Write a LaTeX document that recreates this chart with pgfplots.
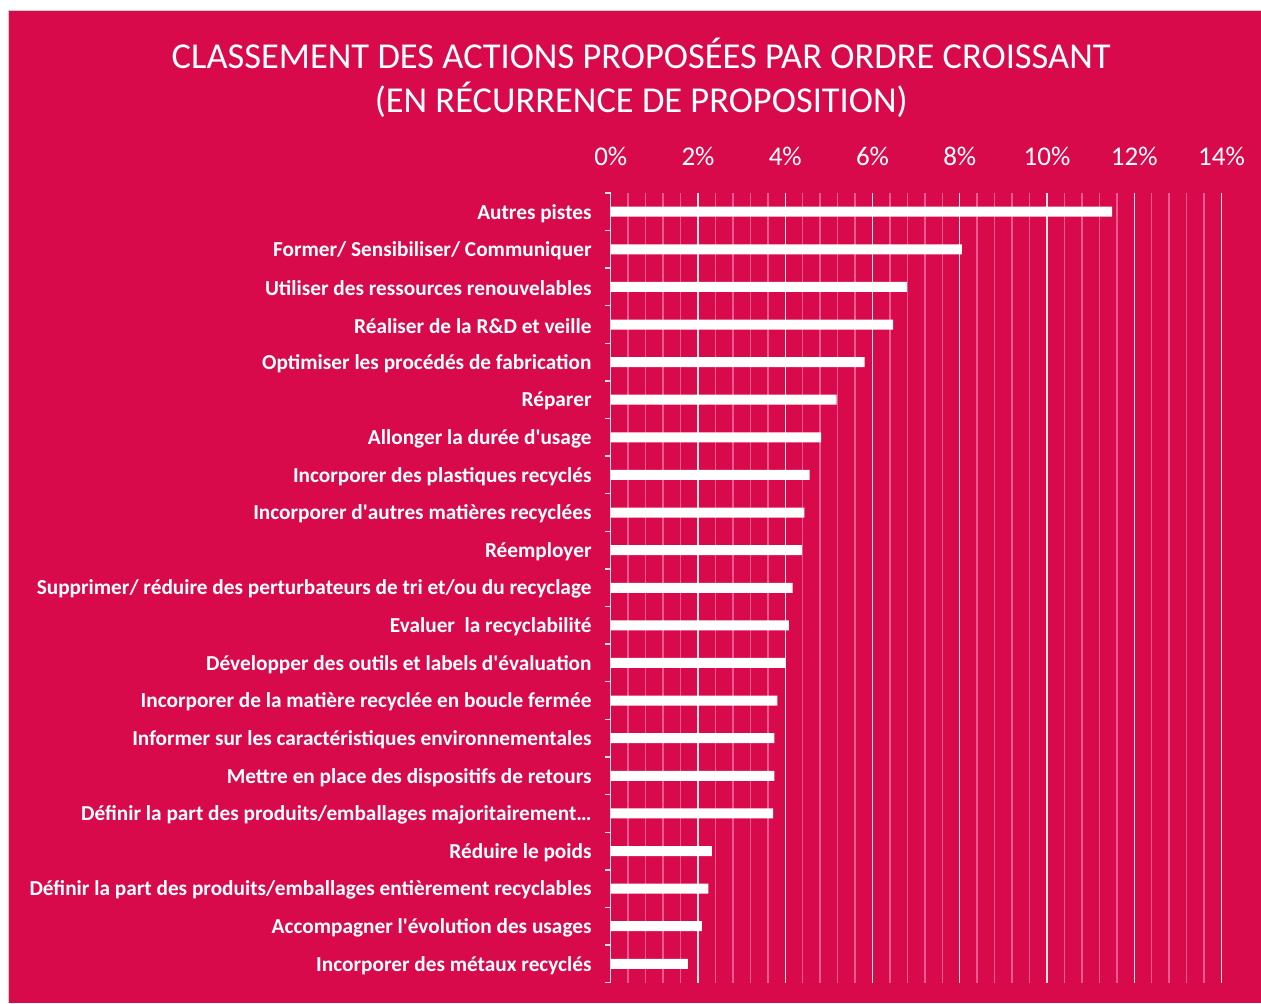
\documentclass[border=0pt]{standalone}
\usepackage{pgfplots}
\pgfplotsset{compat=1.18}
\usepackage{fontspec}
\setmainfont{Carlito}
\definecolor{bg}{HTML}{D80A4C}
\definecolor{minorg}{HTML}{F25B92}
\definecolor{majorg}{HTML}{E4E4E4}
\begin{document}
\begin{tikzpicture}[x=1bp,y=1bp]
\fill[white] (0,0) rectangle (1261,1003);
\fill[bg] (9,0) rectangle (1261,992);
\draw[black!20, line width=1bp] (8.5,0) -- (8.5,992.5) -- (1261,992.5);
\node[anchor=base, text=white, inner sep=0pt, font=\fontsize{36.5bp}{40bp}\selectfont] at (641.5,934) {CLASSEMENT DES ACTIONS PROPOSÉES PAR ORDRE CROISSANT};
\node[anchor=base, text=white, inner sep=0pt, font=\fontsize{36.5bp}{40bp}\selectfont] at (641.5,890) {(EN RÉCURRENCE DE PROPOSITION)};
\begin{axis}[
 at={(611bp,20bp)}, anchor=south west,
 width=611bp, height=790bp, scale only axis,
 xmin=0, xmax=14, ymin=-0.5, ymax=20.5, y dir=reverse,
 xbar, bar width=10bp,
 xtick={0,2,...,14}, xticklabels={0\%,2\%,4\%,6\%,8\%,10\%,12\%,14\%},
 minor x tick num=4,
 xticklabel pos=upper,
 xmajorgrids, xminorgrids,
 major grid style={draw=majorg, line width=1.4bp},
 minor grid style={draw=minorg, line width=1.5bp},
 separate axis lines,
 x axis line style={draw=none},
 y axis line style={draw=majorg, line width=1.4bp},
 ytick={0,...,20},
 yticklabels={{Autres pistes},{Former/ Sensibiliser/ Communiquer},{Utiliser des ressources renouvelables},{Réaliser de la R\&D et veille},{Optimiser les procédés de fabrication},{Réparer},{Allonger la durée d\textquotesingle usage},{Incorporer des plastiques recyclés},{Incorporer d\textquotesingle autres matières recyclées},{Réemployer},{Supprimer/ réduire des perturbateurs de tri et/ou du recyclage},{Evaluer\ \ la recyclabilité\ },{Développer des outils et labels d\textquotesingle évaluation},{Incorporer de la matière recyclée en boucle fermée},{Informer sur les caractéristiques environnementales\ },{Mettre en place des dispositifs de retours},{Définir la part des produits/emballages majoritairement…},{Réduire le poids},{Définir la part des produits/emballages entièrement recyclables},{Accompagner l\textquotesingle évolution des usages},{Incorporer des métaux recyclés}},
 minor ytick={-0.5,0.5,...,20.5},
 ytick pos=left, tick align=outside,
 major tick length=0pt, minor tick length=6bp,
 tick style={draw=majorg, line width=1.4bp},
 minor x tick style={draw=none},
 xticklabel style={font=\fontsize{27bp}{30bp}\selectfont, text=white, anchor=base, inner sep=0pt, yshift=27bp},
 yticklabel style={font=\bfseries\fontsize{21.3bp}{24bp}\selectfont, text=white, anchor=east, inner sep=0pt, xshift=-19bp, yshift=-1.5bp},
]
\addplot[fill=white, draw=none] coordinates {
(11.49,0) (8.05,1) (6.79,2) (6.47,3) (5.82,4) (5.18,5) (4.82,6) (4.56,7) (4.44,8) (4.38,9) (4.17,10) (4.08,11) (4.01,12) (3.82,13) (3.75,14) (3.75,15) (3.72,16) (2.32,17) (2.24,18) (2.09,19) (1.77,20)};
\end{axis}
\end{tikzpicture}
\end{document}
